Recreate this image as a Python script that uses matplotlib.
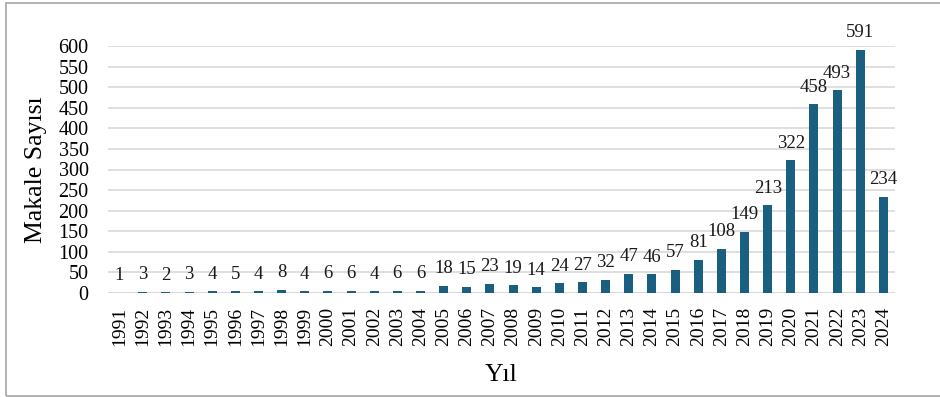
import matplotlib.pyplot as plt
from matplotlib.patches import Rectangle

years = [str(y) for y in range(1991, 2025)]
counts = [1, 3, 2, 3, 4, 5, 4, 8, 4, 6, 6, 4, 6, 6, 18, 15, 23, 19, 14, 24,
          27, 32, 47, 46, 57, 81, 108, 149, 213, 322, 458, 493, 591, 234]
y_ticks = list(range(0, 601, 50))

plt.rcParams['font.family'] = ['Liberation Serif', 'DejaVu Serif']

W, H = 940, 397
fig = plt.figure(figsize=(W / 100, H / 100), dpi=100)

# plot area in pixel terms
left, right, top, bottom = 108, 895, 46, 293
ax = fig.add_axes([left / W, 1 - bottom / H, (right - left) / W, (bottom - top) / H])

bar_color = '#1a5f80'
x = range(len(years))
ax.bar(x, counts, width=0.39, color=bar_color, zorder=3)
for xi, v in zip(x, counts):
    ax.annotate(str(v), (xi, v), xytext=(0, 6), textcoords='offset points',
                ha='center', va='bottom', fontsize=13.5, color='#1a1a1a')

ax.set_xlim(-0.5, len(years) - 0.5)
ax.set_ylim(0, 600)
ax.set_yticks(y_ticks)
ax.set_xticks(list(x))
ax.set_xticklabels(years, rotation=90, fontsize=14)
ax.set_yticklabels([str(t) for t in y_ticks], fontsize=14.5)
ax.tick_params(axis='y', length=0, pad=14)
ax.tick_params(axis='x', length=0, pad=10)
ax.yaxis.grid(True, color='#d9d9d9', linewidth=1.2, zorder=0)
ax.set_axisbelow(True)
for s in ax.spines.values():
    s.set_visible(False)
ax.axhline(0, color='#d9d9d9', linewidth=1.2, zorder=1)

ax.set_ylabel('Makale Sayısı', fontsize=18.5, labelpad=8)
ax.set_xlabel('Yıl', fontsize=18.5, labelpad=13)

# outer frame
fig.patches.append(Rectangle((6 / W, 1 / H), 1.2, 1 - 4 / H,
                             transform=fig.transFigure, fill=False,
                             edgecolor='#a6a6a6', linewidth=1.2))

fig.savefig('out.png', dpi=100)
